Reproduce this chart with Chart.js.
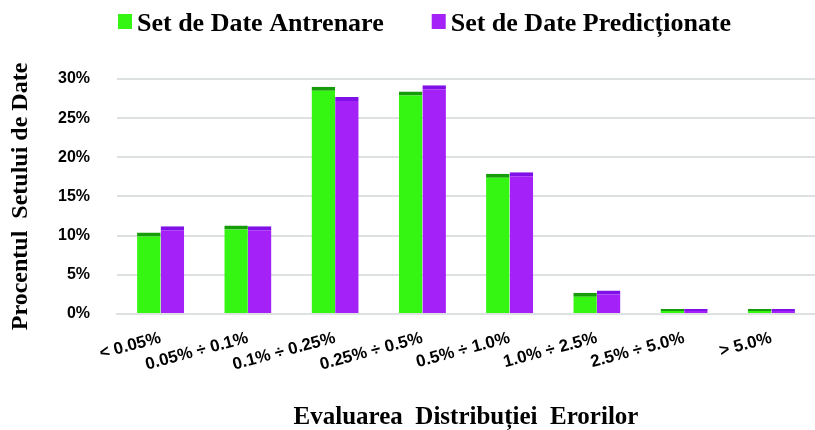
<!DOCTYPE html>
<html>
<head>
<meta charset="utf-8">
<script src="https://cdn.jsdelivr.net/npm/chart.js@4"></script>
<style>
  html, body { margin: 0; padding: 0; background: #fff; }
</style>
</head>
<body>
<canvas id="myChart" width="815" height="430"></canvas>
<script>
const categories = ['< 0.05%', '0.05% \u00f7 0.1%', '0.1% \u00f7 0.25%', '0.25% \u00f7 0.5%',
  '0.5% \u00f7 1.0%', '1.0% \u00f7 2.5%', '2.5% \u00f7 5.0%', '> 5.0%'];
const trainingSet = [10.4, 11.3, 29.0, 28.4, 17.9, 2.7, 0, 0];
const predictedSet = [11.2, 11.2, 27.7, 29.2, 18.1, 3.0, 0, 0];
const yTicks = [0, 5, 10, 15, 20, 25, 30];

const serif = "'Liberation Serif', 'Times New Roman', serif";
const sans = "'Liberation Sans', Arial, sans-serif";

Chart.defaults.font.family = sans;
Chart.defaults.color = '#000';

// legend drawn by hand so the gaps can match the original
const topLegend = {
  id: 'topLegend',
  afterDraw(chart) {
    const c = chart.ctx;
    c.save();
    c.font = 'bold 26px ' + serif;
    c.textBaseline = 'alphabetic';
    let x = 118;
    chart.data.datasets.forEach(ds => {
      c.fillStyle = ds.backgroundColor;
      c.fillRect(x, 14, 14, 15);
      c.fillStyle = '#000';
      c.fillText(ds.label, x + 19, 31);
      x += 19 + c.measureText(ds.label).width + 48;
    });
    c.restore();
  }
};

const ctx = document.getElementById('myChart').getContext('2d');
const chart = new Chart(ctx, {
  type: 'bar',
  data: {
    labels: categories,
    datasets: [{
      label: 'Set de Date Antrenare',
      data: trainingSet,
      backgroundColor: '#35f512',
      borderColor: '#169c08',
      borderWidth: { top: 4, left: 0, right: 0, bottom: 0 },
      borderSkipped: 'bottom',
      minBarLength: 5
    },
    {
      label: 'Set de Date Predicționate',
      data: predictedSet,
      backgroundColor: '#a422f7',
      borderColor: '#8010e8',
      borderWidth: { top: 4, left: 0, right: 0, bottom: 0 },
      borderSkipped: 'bottom',
      minBarLength: 5
    }]
  },
  plugins: [topLegend],
  options: {
    responsive: false,
    animation: false,
    devicePixelRatio: 1,
    layout: { padding: { top: 79, right: 0, bottom: 0, left: 6 } },
    datasets: {
      bar: { categoryPercentage: 0.54, barPercentage: 1.0 }
    },
    plugins: {
      tooltip: { enabled: false },
      legend: { display: false }
    },
    scales: {
      y: {
        min: 0,
        max: 30,
        afterBuildTicks: (axis) => { axis.ticks = yTicks.map(v => ({ value: v })); },
        afterFit: (axis) => { axis.width = 111; },
        ticks: {
          callback: (v) => v + '%',
          padding: 27,
          font: { size: 16, weight: 'bold' }
        },
        grid: { color: '#dde1e2', lineWidth: 2, drawTicks: false },
        border: { display: false },
        title: {
          display: true,
          text: 'Procentul  Setului de Date',
          font: { family: serif, size: 24, weight: 'bold' },
          padding: { top: 0, bottom: 18 }
        }
      },
      x: {
        grid: { display: false },
        border: { display: true, color: '#dde1e2', width: 2 },
        ticks: {
          autoSkip: false,
          minRotation: 15,
          maxRotation: 15,
          padding: 6,
          font: { size: 17, weight: 'bold' }
        },
        title: {
          display: true,
          text: 'Evaluarea  Distribuției  Erorilor',
          font: { family: serif, size: 25, weight: 'bold', lineHeight: 1.0 },
          padding: { top: 24, bottom: 0 }
        }
      }
    }
  }
});
</script>
</body>
</html>
